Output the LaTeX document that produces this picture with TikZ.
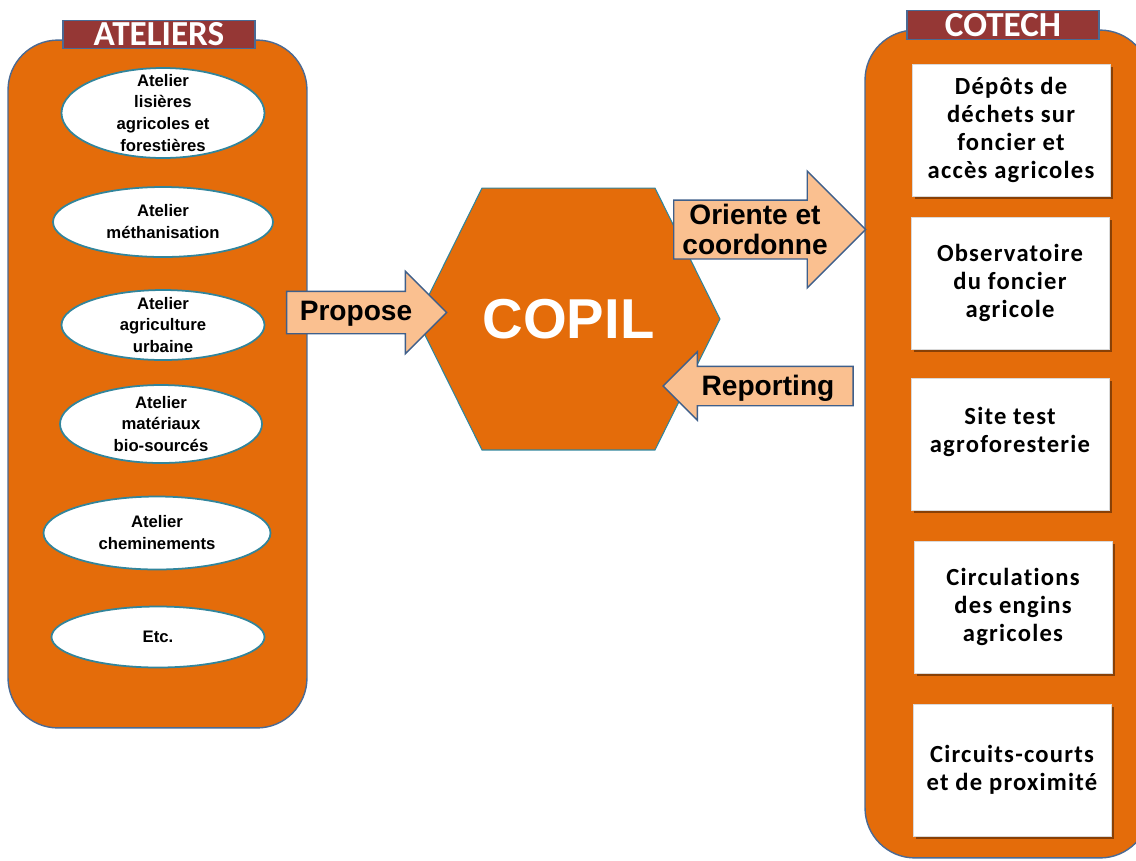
\documentclass[tikz,border=0pt]{standalone}
\usepackage{fontspec}
\setmainfont{Liberation Sans}
\newfontfamily\calibri[LetterSpace=5, Ligatures=NoCommon]{Carlito}
\newfontfamily\calibritab{Carlito}
\usetikzlibrary{positioning, shapes.geometric, shapes.arrows, shadows, backgrounds}

\definecolor{boxorange}{HTML}{E46C0A}
\definecolor{tabred}{HTML}{953735}
\definecolor{frameblue}{HTML}{4A6A94}
\definecolor{ovalteal}{HTML}{31859C}
\definecolor{arrowpeach}{HTML}{FAC090}
\definecolor{arrowblue}{HTML}{3F5F8A}

\begin{document}
\begin{tikzpicture}[
        x=0.02cm, y=-0.02cm,
        group/.style={draw=frameblue, fill=boxorange, line width=0.8pt, rounded corners=1cm, inner sep=0pt, outer sep=0pt},
        tab/.style={draw=frameblue, fill=tabred, line width=0.8pt, text=white, font=\calibritab\bfseries\fontsize{20}{20}\selectfont, minimum width=3.84cm, minimum height=0.57cm, inner sep=0pt},
        atelier/.style={ellipse, draw=ovalteal, fill=white, line width=1pt, inner sep=0pt},
        ateliertext/.style={align=center, font=\bfseries\fontsize{9.5}{12.5}\selectfont},
        theme/.style={rectangle, fill=white, draw=black!15, line width=0.4pt, minimum width=3.96cm, minimum height=2.64cm, align=center, font=\calibri\bfseries\fontsize{14}{16}\selectfont, drop shadow={shadow xshift=0.06cm, shadow yshift=-0.06cm, fill=black, opacity=0.4}},
        flow/.style={single arrow, draw=arrowblue, fill=arrowpeach, line width=0.8pt, inner xsep=0pt, align=center, font=\bfseries\fontsize{16}{17}\selectfont},
    ]
    \useasboundingbox (0,0) rectangle (1136,860);

    % The two groups with their title tabs
    \node[group, minimum width=5.98cm, minimum height=13.76cm] (ateliers) at (157.5,384) {};
    \node[tab] (ateliers-title) at (159,34.5) {ATELIERS};

    \node[group, minimum width=5.7cm, minimum height=16.56cm] (cotech) at (1007.5,444) {};
    \node[tab] (cotech-title) at (1003,25) {COTECH};

    % Workshops
    \foreach \name/\x/\y/\w/\h/\txt in {
        1/163/113/203/90/{Atelier\\lisières\\agricoles et\\forestières},
        2/163/222/220/70/{Atelier\\méthanisation},
        3/163/325/203/70/{Atelier\\agriculture\\urbaine},
        4/161/424/202/78/{Atelier\\matériaux\\bio-sourcés},
        5/157/533/227/73/{Atelier\\cheminements},
        6/158/637/213/61/{Etc.}}
    {
        \node[atelier, minimum width=\w*0.02cm, minimum height=\h*0.02cm] (A-\name) at (\x,\y) {};
        \node[ateliertext] (A-\name-text) at (A-\name) {\txt};
    }

    % Technical topics
    \foreach \name/\x/\y/\txt in {
        1/1011/130/{Dépôts de\\déchets sur\\foncier et\\accès agricoles},
        2/1010/283/{Observatoire\\du foncier\\agricole},
        3/1010/444/{Site test\\agroforesterie\\\mbox{}},
        4/1013/607/{Circulations\\des engins\\agricoles},
        5/1012/770/{Circuits-courts\\et de proximité}}
        \node[theme] (T-\name) at (\x,\y) {\txt};

    % Steering committee
    \node[minimum width=6.06cm, minimum height=5.24cm, inner sep=0pt, outer sep=0pt, text=white, font=\bfseries\fontsize{32}{32}\selectfont] (copil) at (568.5,319) {COPIL};
    \begin{scope}[on background layer]
        \draw[draw=ovalteal, fill=boxorange, line width=0.6pt] (copil.west) -- ([xshift=1.3cm]copil.north west) -- ([xshift=-1.3cm]copil.north east)
            -- (copil.east) -- ([xshift=-1.3cm]copil.south east) -- ([xshift=1.3cm]copil.south west) -- cycle;
    \end{scope}

    % Block arrows between the groups
    \node[flow, minimum height=3.2cm, single arrow head extend=0.4cm, text height=0.56cm, text depth=0.26cm, inner ysep=0pt] (propose) at (356,312.5) {Propose};
    \node[flow, minimum height=3.84cm, single arrow head extend=0.58cm, inner ysep=0.07cm] (orient) at (755,229.5) {Oriente et\\coordonne};
    \node[flow, shape border rotate=180, minimum height=3.8cm, single arrow head extend=0.29cm, text height=0.56cm, text depth=0.2cm, inner ysep=0pt] (reporting) at (768,386) {Reporting};
\end{tikzpicture}
\end{document}
